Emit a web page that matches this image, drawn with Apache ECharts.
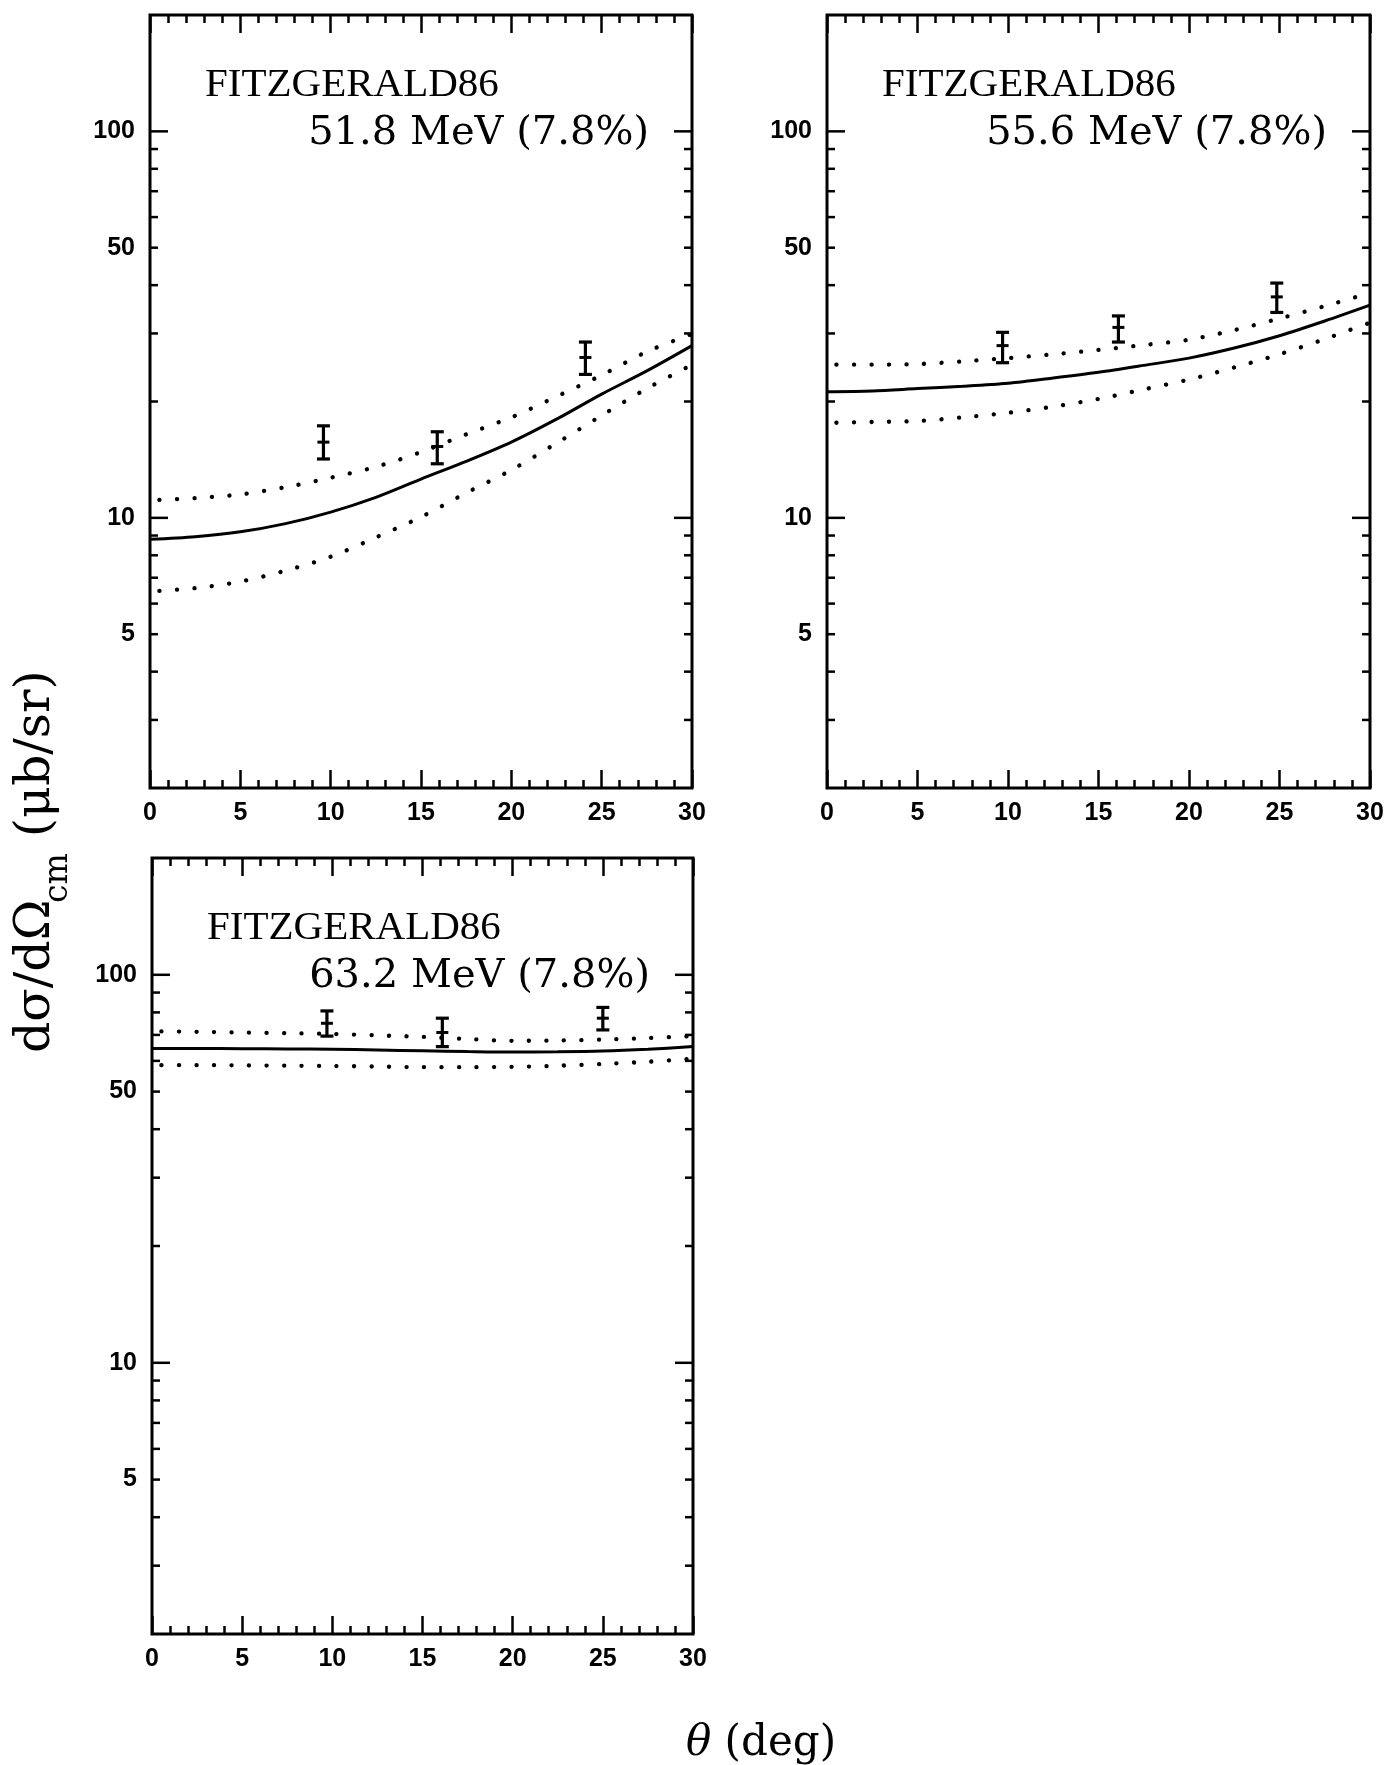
<!DOCTYPE html>
<html>
<head>
<meta charset="utf-8">
<script src="https://cdn.jsdelivr.net/npm/echarts@6/dist/echarts.min.js"></script>
<style>
  html, body { margin: 0; padding: 0; background: #fff; overflow: hidden; }
  #chart { width: 1390px; height: 1765px; }
</style>
</head>
<body>
<div id="chart"></div>
<script>
// Angles (deg) at which the calculated cross sections are sampled
const thetaCurve = [0, 2.5, 5, 7.5, 10, 12.5, 15, 17.5, 20, 22.5, 25, 27.5, 30];

// 51.8 MeV: calculation and its +/- band (dotted)
const calc518  = [8.8, 8.94, 9.2, 9.66, 10.35, 11.3, 12.6, 14.0, 15.7, 18.0, 20.9, 24.0, 27.9];
const upper518 = [11.1, 11.25, 11.5, 12.0, 12.7, 13.55, 14.8, 16.45, 18.2, 20.6, 23.4, 26.9, 29.9];
const lower518 = [6.45, 6.58, 6.84, 7.3, 7.93, 8.9, 10.05, 11.6, 13.3, 15.6, 18.4, 21.6, 24.9];
// 51.8 MeV: measured points with error bars
const theta518 = [9.6, 15.9, 24.1];
const meas518  = [15.7, 15.3, 26.0];
const low518   = [14.2, 13.8, 23.5];
const high518  = [17.3, 16.7, 28.5];

// 55.6 MeV
const calc556  = [21.2, 21.3, 21.6, 21.9, 22.3, 23.0, 23.8, 24.8, 25.9, 27.5, 29.6, 32.3, 35.5];
const upper556 = [24.9, 24.9, 25.0, 25.4, 25.9, 26.5, 27.2, 28.0, 28.9, 30.6, 32.8, 35.3, 38.2];
const lower556 = [17.6, 17.7, 17.8, 18.2, 18.7, 19.4, 20.3, 21.5, 22.8, 24.5, 26.5, 29.0, 32.0];
const theta556 = [9.7, 16.1, 24.85];
const meas556  = [27.9, 31.1, 37.3];
const low556   = [25.2, 28.5, 34.0];
const high556  = [30.2, 33.3, 40.5];

// 63.2 MeV
const calc632  = [64.6, 64.6, 64.5, 64.4, 64.3, 64.0, 63.7, 63.4, 63.2, 63.3, 63.6, 64.3, 65.3];
const upper632 = [71.5, 71.3, 71.0, 70.7, 70.4, 69.8, 69.2, 68.3, 67.6, 67.7, 68.1, 68.7, 69.5];
const lower632 = [58.5, 58.5, 58.4, 58.3, 58.2, 58.0, 57.8, 57.8, 57.9, 58.3, 58.9, 59.7, 60.8];
const theta632 = [9.7, 16.1, 25.0];
const meas632  = [75.0, 71.0, 77.3];
const low632   = [69.5, 65.3, 72.1];
const high632  = [80.7, 77.3, 82.4];

// Axis ticks
const xRange = [0, 30];
const xMajorStep = 5;
const yRange = [2, 200];
const yMinorTicks = [3, 4, 5, 6, 7, 8, 9, 20, 30, 40, 50, 60, 70, 80, 90];
const yMajorTicks = [10, 100];
const yTickLabels = [5, 10, 50, 100];

// Panel annotations
const refName = 'FITZGERALD86';
const energyLabels = ['51.8 MeV (7.8%)', '55.6 MeV (7.8%)', '63.2 MeV (7.8%)'];

const panels = [
  { rect: { left: 150, top: 15, width: 542, height: 773 },
    calc: calc518, upper: upper518, lower: lower518,
    theta: theta518, meas: meas518, low: low518, high: high518, label: energyLabels[0] },
  { rect: { left: 827, top: 15, width: 543, height: 773 },
    calc: calc556, upper: upper556, lower: lower556,
    theta: theta556, meas: meas556, low: low556, high: high556, label: energyLabels[1] },
  { rect: { left: 152, top: 858, width: 541, height: 776 },
    calc: calc632, upper: upper632, lower: lower632,
    theta: theta632, meas: meas632, low: low632, high: high632, label: energyLabels[2] }
];

const BLACK = '#000';
const tickFont = 'bold 25px "Liberation Sans", Arial, sans-serif';

const grids = [], xAxes = [], yAxes = [], series = [], graphics = [];

panels.forEach((p, i) => {
  grids.push({
    left: p.rect.left, top: p.rect.top, width: p.rect.width, height: p.rect.height,
    show: true, borderColor: BLACK, borderWidth: 3, backgroundColor: 'transparent',
    containLabel: false, outerBoundsMode: 'none'
  });

  const xCommon = {
    type: 'value', gridIndex: i, min: xRange[0], max: xRange[1], interval: xMajorStep,
    axisLine: { show: false },
    axisTick: { show: true, inside: true, length: 18, lineStyle: { color: BLACK, width: 2.5 } },
    minorTick: { show: true, splitNumber: 5, length: 8, lineStyle: { color: BLACK, width: 2.5 } },
    splitLine: { show: false }, minorSplitLine: { show: false }
  };
  xAxes.push(Object.assign({}, xCommon, {
    position: 'bottom',
    axisLabel: { show: true, color: BLACK, fontSize: 25, fontWeight: 'bold',
                 fontFamily: 'Liberation Sans', margin: 13, showMinLabel: true, showMaxLabel: true }
  }));
  xAxes.push(Object.assign({}, xCommon, { position: 'top', axisLabel: { show: false } }));

  yAxes.push({
    type: 'log', logBase: 10, gridIndex: i, min: yRange[0], max: yRange[1],
    axisLine: { show: false }, axisTick: { show: false }, axisLabel: { show: false },
    splitLine: { show: false }
  });

  const xb = i * 2;
  const curve = vals => thetaCurve.map((t, k) => [t, vals[k]]);

  series.push({
    type: 'line', xAxisIndex: xb, yAxisIndex: i, data: curve(p.calc),
    smooth: 0.3, showSymbol: false, symbol: 'none', silent: true,
    lineStyle: { color: BLACK, width: 3 }
  });
  [p.upper, p.lower].forEach(band => {
    series.push({
      type: 'line', xAxisIndex: xb, yAxisIndex: i, data: curve(band),
      smooth: 0.3, showSymbol: false, symbol: 'none', silent: true,
      lineStyle: { color: BLACK, width: 4.3, type: [0.1, 17.4], cap: 'round', dashOffset: 8 }
    });
  });

  // Measured points with error bars
  series.push({
    type: 'custom', xAxisIndex: xb, yAxisIndex: i, clip: false, silent: true,
    data: p.theta.map((t, k) => [t, p.meas[k], p.low[k], p.high[k]]),
    encode: { x: 0, y: 1 },
    renderItem: (params, api) => {
      const x = api.value(0);
      const c = api.coord([x, api.value(1)]);
      const lo = api.coord([x, api.value(2)]);
      const hi = api.coord([x, api.value(3)]);
      const w = 6.5;
      const st = { stroke: BLACK, lineWidth: 3.2 };
      return { type: 'group', children: [
        { type: 'line', shape: { x1: c[0], y1: lo[1], x2: c[0], y2: hi[1] }, style: st },
        { type: 'line', shape: { x1: c[0] - w, y1: lo[1], x2: c[0] + w, y2: lo[1] }, style: st },
        { type: 'line', shape: { x1: c[0] - w, y1: hi[1], x2: c[0] + w, y2: hi[1] }, style: st },
        { type: 'line', shape: { x1: c[0] - 6, y1: c[1], x2: c[0] + 6, y2: c[1] },
          style: { stroke: BLACK, lineWidth: 3 } }
      ] };
    }
  });

  // Logarithmic ticks on both vertical edges, with labels on the left
  const yTicks = yMinorTicks.concat(yMajorTicks);
  series.push({
    type: 'custom', xAxisIndex: xb, yAxisIndex: i, clip: false, silent: true,
    data: yTicks.map(v => [xRange[0], v]),
    encode: { x: 0, y: 1 },
    renderItem: (params, api) => {
      const v = api.value(1);
      const L = api.coord([xRange[0], v]);
      const R = api.coord([xRange[1], v]);
      const len = yMajorTicks.indexOf(v) >= 0 ? 18 : 8;
      const st = { stroke: BLACK, lineWidth: 2.5 };
      const children = [
        { type: 'line', shape: { x1: L[0], y1: L[1], x2: L[0] + len, y2: L[1] }, style: st },
        { type: 'line', shape: { x1: R[0] - len, y1: R[1], x2: R[0], y2: R[1] }, style: st }
      ];
      if (yTickLabels.indexOf(v) >= 0) {
        children.push({ type: 'text', style: {
          text: String(v), x: L[0] - 15, y: L[1],
          align: 'right', textAlign: 'right', verticalAlign: 'middle', textVerticalAlign: 'middle',
          font: tickFont, fill: BLACK } });
      }
      return { type: 'group', children };
    }
  });

  // Reference and beam energy annotation
  const r = p.rect;
  graphics.push({
    type: 'text', silent: true,
    style: { text: refName, x: r.left + 55, y: r.top + 70,
             align: 'left', textAlign: 'left', verticalAlign: 'middle', textVerticalAlign: 'middle',
             font: '41px "Liberation Serif", "Times New Roman", serif', fill: BLACK }
  });
  graphics.push({
    type: 'text', silent: true,
    style: { text: p.label, x: r.left + r.width - 43, y: r.top + 119,
             align: 'right', textAlign: 'right', verticalAlign: 'middle', textVerticalAlign: 'middle',
             font: '40px "DejaVu Serif", serif', fill: BLACK }
  });
});

// Shared axis titles
const titleFont = '49px "DejaVu Serif", serif';
graphics.push({
  type: 'group', x: 53, y: 1053, rotation: Math.PI / 2, silent: true,
  children: [
    { type: 'text', style: { text: 'dσ/dΩ', x: 0, y: -17, align: 'left', textAlign: 'left',
        verticalAlign: 'middle', textVerticalAlign: 'middle', font: titleFont, fill: BLACK } },
    { type: 'text', style: { text: 'cm', x: 150, y: 5, align: 'left', textAlign: 'left',
        verticalAlign: 'middle', textVerticalAlign: 'middle', font: '33px "DejaVu Serif", serif', fill: BLACK } },
    { type: 'text', style: { text: '(μb/sr)', x: 216, y: -17, align: 'left', textAlign: 'left',
        verticalAlign: 'middle', textVerticalAlign: 'middle', font: titleFont, fill: BLACK } }
  ]
});
graphics.push({
  type: 'text', silent: true,
  style: {
    text: '{i|θ} (deg)', x: 761, y: 1744,
    align: 'center', textAlign: 'center', verticalAlign: 'middle', textVerticalAlign: 'middle',
    font: '42px "DejaVu Serif", serif', fill: BLACK,
    rich: { i: { fontStyle: 'italic', fontFamily: 'DejaVu Serif', fontSize: 42, fill: BLACK, color: BLACK } }
  }
});

const chart = echarts.init(document.getElementById('chart'), null, { renderer: 'canvas' });
chart.setOption({
  animation: false,
  backgroundColor: '#fff',
  grid: grids,
  xAxis: xAxes,
  yAxis: yAxes,
  series: series,
  graphic: { elements: graphics }
});
</script>
</body>
</html>
